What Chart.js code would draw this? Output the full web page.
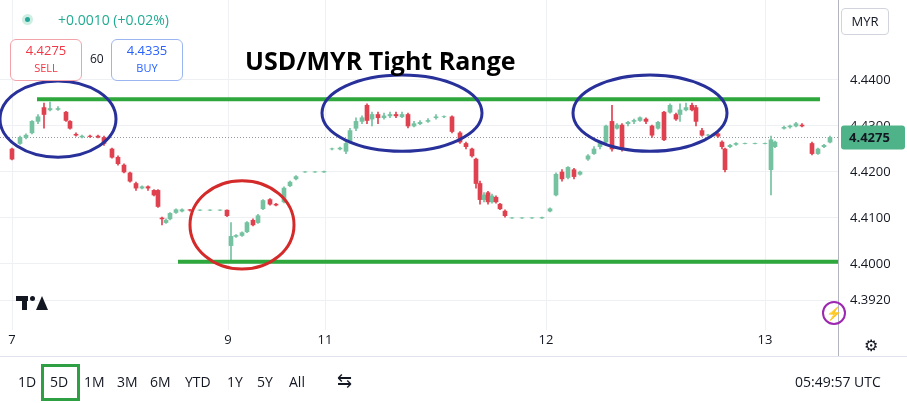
<!DOCTYPE html>
<html><head><meta charset="utf-8">
<script src="https://cdn.jsdelivr.net/npm/chart.js@4.4.1/dist/chart.umd.min.js"></script>
<style>
body{margin:0;width:907px;height:403px;background:#fff;font-family:"Open Sans",Arial,sans-serif;position:relative;overflow:hidden}
#wrap{position:absolute;left:0;top:0;width:907px;height:356px}
.a{position:absolute;white-space:nowrap}
.tb span{position:absolute;top:372px;font-size:14px;color:#131722}
</style></head><body>
<div id="wrap"><canvas id="c" width="907" height="356"></canvas></div>
<div class="a" style="left:22px;top:14px;width:11px;height:11px;border-radius:50%;background:#cfeee2"></div>
<div class="a" style="left:25px;top:17px;width:5px;height:5px;border-radius:50%;background:#26a69a"></div>
<div class="a" style="left:58px;top:10px;font-size:14px;color:#22ab94">+0.0010 (+0.02%)</div>
<div class="a" style="left:10px;top:39px;width:70px;height:38px;border:1px solid #f2a3aa;border-radius:6px;background:#fff;text-align:center;color:#f23645;font-size:13px;line-height:17px;padding-top:2px">4.4275<br><span style="font-size:11px">SELL</span></div>
<div class="a" style="left:90px;top:50px;font-size:12px;color:#131722">60</div>
<div class="a" style="left:111px;top:39px;width:70px;height:38px;border:1px solid #9ab5f0;border-radius:6px;background:#fff;text-align:center;color:#2962ff;font-size:13px;line-height:17px;padding-top:2px">4.4335<br><span style="font-size:11px">BUY</span></div>
<div class="a" style="left:245px;top:43px;font-size:25px;font-weight:bold;color:#000;font-family:'Open Sans',sans-serif">USD/MYR Tight Range</div>
<div class="a" style="left:841px;top:8px;width:46px;height:25px;border:1px solid #d1d4dc;border-radius:4px;font-size:13px;line-height:25px;text-align:center;color:#131722">MYR</div>
<div class="a" style="left:16px;top:296px;width:12px;height:5px;background:#131722"></div>
<div class="a" style="left:22px;top:296px;width:5px;height:14px;background:#131722"></div>
<div class="a" style="left:30px;top:296px;width:5px;height:5px;border-radius:50%;background:#131722"></div>
<div class="a" style="left:36px;top:296px;width:0;height:0;border-left:6px solid transparent;border-right:6px solid transparent;border-bottom:14px solid #131722"></div>
<div class="a" style="left:822px;top:301px;width:20px;height:20px;border:2px solid #9c27b0;border-radius:50%;color:#9c27b0;font-size:13px;text-align:center;line-height:20px">⚡</div>
<div class="a" style="left:864px;top:334px;font-size:16px;color:#131722">⚙</div>
<div class="a" style="left:0;top:356px;width:907px;height:1px;background:#e0e3eb"></div>
<div class="tb">
<span style="left:18px">1D</span>
<span style="left:50px">5D</span>
<div class="a" style="left:41px;top:364px;width:33px;height:31px;border:3px solid #2ea043"></div>
<span style="left:84px">1M</span><span style="left:117px">3M</span><span style="left:150px">6M</span>
<span style="left:185px">YTD</span><span style="left:227px">1Y</span><span style="left:257px">5Y</span><span style="left:289px">All</span>
<span style="left:337px;font-size:18px;top:368px">⇆</span>
<span style="left:795px">05:49:57 UTC</span>
</div>
<script>
const candleX=[12,20,26,32,38,44,50,58,66,70,76,82,90,98,104,112,118,124,130,136,142,148,154,158,162,166,170,176,182,190,200,210,220,227,231,236,242,247,253,258,263,270,276,284,290,296,305,315,324,332,340,346,350,356,362,367,372,378,384,390,396,402,408,414,420,428,436,444,452,460,466,472,476,480,484,488,492,496,500,505,512,522,532,542,550,556,562,568,574,580,588,594,600,606,612,617,622,628,634,640,646,652,658,664,670,676,680,686,692,696,702,708,714,718,722,725,730,736,745,755,765,771,775,784,790,796,802,812,818,824,830];
const candleOpen=[4.4250,4.4262,4.4275,4.4285,4.4310,4.4340,4.4335,4.4336,4.4330,4.4310,4.4282,4.4276,4.4278,4.4278,4.4275,4.4250,4.4232,4.4215,4.4198,4.4175,4.4165,4.4168,4.4160,4.4160,4.4100,4.4090,4.4098,4.4112,4.4115,4.4118,4.4117,4.4117,4.4117,4.4117,4.4040,4.4060,4.4062,4.4070,4.4095,4.4090,4.4120,4.4140,4.4130,4.4135,4.4170,4.4185,4.4200,4.4200,4.4200,4.4250,4.4250,4.4245,4.4265,4.4295,4.4310,4.4345,4.4315,4.4325,4.4318,4.4322,4.4325,4.4320,4.4325,4.4300,4.4305,4.4310,4.4318,4.4320,4.4320,4.4285,4.4262,4.4250,4.4228,4.4175,4.4140,4.4155,4.4135,4.4145,4.4130,4.4115,4.4100,4.4100,4.4100,4.4100,4.4115,4.4150,4.4200,4.4188,4.4205,4.4195,4.4228,4.4240,4.4255,4.4265,4.4310,4.4295,4.4302,4.4305,4.4310,4.4312,4.4315,4.4300,4.4295,4.4330,4.4330,4.4325,4.4325,4.4335,4.4345,4.4340,4.4290,4.4280,4.4280,4.4283,4.4265,4.4250,4.4255,4.4260,4.4262,4.4262,4.4262,4.4205,4.4255,4.4295,4.4298,4.4300,4.4302,4.4262,4.4240,4.4255,4.4265];
const candleHigh=[4.4252,4.4278,4.4283,4.4312,4.4325,4.4350,4.4352,4.4342,4.4332,4.4312,4.4285,4.4280,4.4280,4.4280,4.4278,4.4252,4.4235,4.4218,4.4200,4.4178,4.4170,4.4170,4.4162,4.4162,4.4102,4.4098,4.4112,4.4120,4.4120,4.4119,4.4118,4.4118,4.4118,4.4118,4.4090,4.4064,4.4070,4.4092,4.4098,4.4108,4.4140,4.4142,4.4132,4.4168,4.4180,4.4192,4.4201,4.4201,4.4202,4.4252,4.4254,4.4265,4.4295,4.4318,4.4322,4.4348,4.4330,4.4330,4.4328,4.4330,4.4330,4.4330,4.4328,4.4310,4.4312,4.4316,4.4325,4.4322,4.4322,4.4288,4.4265,4.4252,4.4230,4.4180,4.4155,4.4158,4.4152,4.4148,4.4132,4.4118,4.4101,4.4101,4.4101,4.4102,4.4122,4.4198,4.4205,4.4212,4.4208,4.4202,4.4238,4.4255,4.4265,4.4302,4.4345,4.4305,4.4305,4.4310,4.4315,4.4320,4.4318,4.4302,4.4310,4.4332,4.4348,4.4328,4.4348,4.4350,4.4350,4.4345,4.4295,4.4282,4.4285,4.4285,4.4268,4.4252,4.4260,4.4264,4.4263,4.4263,4.4263,4.4278,4.4267,4.4300,4.4302,4.4308,4.4305,4.4265,4.4252,4.4260,4.4278];
const candleLow=[4.4226,4.4260,4.4272,4.4283,4.4305,4.4295,4.4333,4.4334,4.4310,4.4293,4.4278,4.4274,4.4275,4.4274,4.4258,4.4230,4.4215,4.4198,4.4178,4.4160,4.4163,4.4160,4.4148,4.4123,4.4085,4.4088,4.4096,4.4110,4.4113,4.4115,4.4116,4.4116,4.4116,4.4103,4.4004,4.4058,4.4060,4.4068,4.4083,4.4088,4.4118,4.4128,4.4126,4.4133,4.4168,4.4183,4.4199,4.4199,4.4199,4.4248,4.4248,4.4240,4.4263,4.4290,4.4305,4.4305,4.4300,4.4305,4.4315,4.4318,4.4318,4.4318,4.4296,4.4298,4.4303,4.4308,4.4315,4.4318,4.4285,4.4262,4.4250,4.4232,4.4165,4.4130,4.4135,4.4130,4.4132,4.4132,4.4118,4.4102,4.4099,4.4099,4.4099,4.4099,4.4113,4.4148,4.4180,4.4185,4.4185,4.4193,4.4225,4.4238,4.4250,4.4262,4.4245,4.4293,4.4245,4.4300,4.4305,4.4310,4.4305,4.4275,4.4293,4.4268,4.4328,4.4312,4.4310,4.4333,4.4333,4.4300,4.4278,4.4278,4.4278,4.4275,4.4250,4.4200,4.4253,4.4258,4.4261,4.4261,4.4261,4.4150,4.4253,4.4293,4.4295,4.4298,4.4298,4.4237,4.4238,4.4253,4.4263];
const candleClose=[4.4228,4.4275,4.4280,4.4310,4.4320,4.4325,4.4338,4.4338,4.4312,4.4295,4.4280,4.4278,4.4277,4.4276,4.4262,4.4232,4.4218,4.4200,4.4180,4.4165,4.4168,4.4165,4.4150,4.4125,4.4098,4.4095,4.4110,4.4118,4.4118,4.4117,4.4117,4.4117,4.4117,4.4105,4.4060,4.4062,4.4068,4.4090,4.4085,4.4105,4.4138,4.4130,4.4128,4.4165,4.4178,4.4190,4.4200,4.4200,4.4201,4.4250,4.4252,4.4262,4.4290,4.4310,4.4318,4.4312,4.4325,4.4318,4.4322,4.4325,4.4322,4.4325,4.4300,4.4305,4.4308,4.4312,4.4320,4.4320,4.4288,4.4265,4.4255,4.4235,4.4175,4.4140,4.4150,4.4135,4.4148,4.4135,4.4120,4.4105,4.4100,4.4100,4.4100,4.4101,4.4120,4.4195,4.4185,4.4210,4.4190,4.4200,4.4235,4.4250,4.4262,4.4300,4.4250,4.4302,4.4250,4.4308,4.4312,4.4318,4.4310,4.4280,4.4308,4.4270,4.4345,4.4315,4.4335,4.4340,4.4335,4.4310,4.4280,4.4280,4.4283,4.4278,4.4255,4.4205,4.4258,4.4262,4.4262,4.4262,4.4262,4.4270,4.4265,4.4297,4.4300,4.4305,4.4300,4.4240,4.4250,4.4258,4.4275];
const dayTicks=[12,228,325,546,765];
const dayLabels=['7','9','11','12','13'];
const priceTicks=[4.4400,4.4300,4.4200,4.4100,4.4000,4.3920];
const lastPrice=4.4275;
const levelLines=[{x1:37,x2:820,p:4.4358},{x1:178,x2:838,p:4.4005}];
const ellipses=[{x:58,p:4.4315,rx:58,rp:0.0083,c:'#28309a'},{x:402,p:4.4328,rx:80,rp:0.0083,c:'#28309a'},{x:650,p:4.4328,rx:77,rp:0.0083,c:'#28309a'},{x:242,p:4.4085,rx:52,rp:0.0096,c:'#d42a2a'}];

const GREEN='#74c2a0',RED='#e0414f';
const col=i=>candleClose[i]>=candleOpen[i]?GREEN:RED;
const bodies=candleX.map((x,i)=>({x,y:[candleOpen[i],Math.abs(candleClose[i]-candleOpen[i])<0.00004?candleOpen[i]+0.00004:candleClose[i]]}));
const wicks=candleX.map((x,i)=>({x,y:[candleLow[i],candleHigh[i]]}));

const overlay={id:'ov',
 beforeDatasetsDraw(ch){const {ctx,chartArea:a,scales:{x,y}}=ch;ctx.save();
  ctx.setLineDash([1,2]);ctx.strokeStyle='#9598a1';ctx.lineWidth=1;
  const ly=Math.round(y.getPixelForValue(lastPrice))+0.5;ctx.beginPath();ctx.moveTo(a.left,ly);ctx.lineTo(a.right,ly);ctx.stroke();ctx.restore();},
 afterDatasetsDraw(ch){const {ctx,chartArea:a,scales:{x,y}}=ch;ctx.save();
  ctx.strokeStyle='#2ea83c';ctx.lineWidth=4;
  levelLines.forEach(l=>{const py=y.getPixelForValue(l.p);ctx.beginPath();ctx.moveTo(x.getPixelForValue(l.x1),py);ctx.lineTo(x.getPixelForValue(l.x2),py);ctx.stroke();});
  ctx.lineWidth=3;
  ellipses.forEach(e=>{const cx=x.getPixelForValue(e.x),cy=y.getPixelForValue(e.p);
   const rx=x.getPixelForValue(e.x+e.rx)-cx,ry=cy-y.getPixelForValue(e.p+e.rp);
   ctx.strokeStyle=e.c;ctx.beginPath();ctx.ellipse(cx,cy,rx,ry,0,0,Math.PI*2);ctx.stroke();});
  const ly=y.getPixelForValue(lastPrice);
  ctx.fillStyle='#4fb389';ctx.beginPath();ctx.roundRect(a.right+3,ly-12,64,24,3);ctx.fill();
  ctx.fillStyle='#131722';ctx.font='bold 13px "Open Sans"';ctx.textAlign='left';ctx.textBaseline='middle';ctx.fillText(lastPrice.toFixed(4),a.right+11,ly+1);
  ctx.strokeStyle='#b2b5be';ctx.lineWidth=1;ctx.beginPath();ctx.moveTo(a.right+0.5,0);ctx.lineTo(a.right+0.5,356);ctx.stroke();
  ctx.restore();}
};

new Chart(document.getElementById('c'),{
 type:'bar',
 data:{datasets:[
  {data:wicks,backgroundColor:wicks.map((_,i)=>col(i)),barThickness:1,grouped:false,order:2},
  {data:bodies,backgroundColor:bodies.map((_,i)=>col(i)),barThickness:4,grouped:false,order:1}
 ]},
 options:{responsive:false,animation:false,layout:{padding:0},
  plugins:{legend:{display:false},tooltip:{enabled:false}},
  scales:{
   x:{type:'linear',offset:false,min:0,max:838,afterFit:s=>{s.height=26;s.paddingLeft=0;s.paddingRight=0;},
     afterBuildTicks:s=>{s.ticks=dayTicks.map(v=>({value:v}));},
     ticks:{callback:(v)=>dayLabels[dayTicks.indexOf(v)]??'',color:'#131722',font:{size:13,family:'Open Sans'},maxRotation:0,autoSkip:false,padding:2},
     grid:{color:'#eef0f4',drawTicks:false,offset:false},border:{display:false}},
   y:{position:'right',min:4.38565,max:4.45739,afterFit:s=>{s.width=69;s.paddingTop=0;s.paddingBottom=0;},
     afterBuildTicks:s=>{s.ticks=priceTicks.map(v=>({value:v}));},
     ticks:{callback:v=>Number(v).toFixed(4),color:'#131722',font:{size:13,family:'Open Sans'},padding:12},
     grid:{color:'#eef0f4',drawTicks:false},border:{display:false}}
  }},
 plugins:[overlay]
});
</script></body></html>
